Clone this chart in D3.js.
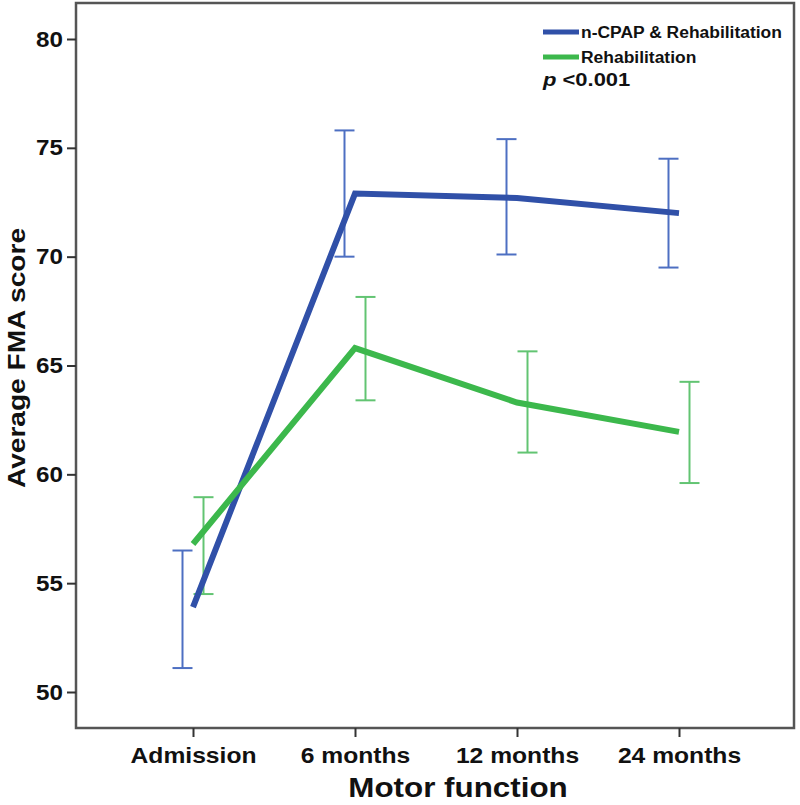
<!DOCTYPE html>
<html>
<head>
<meta charset="utf-8">
<script src="https://cdn.jsdelivr.net/npm/d3@7"></script>
<style>
  body { margin: 0; background: #fff; }
  svg { display: block; font-family: "Liberation Sans", Arial, sans-serif; }
</style>
</head>
<body>
<svg id="chart" width="800" height="805"></svg>
<script>
const categories = ["Admission", "6 months", "12 months", "24 months"];
const yTicks = [50, 55, 60, 65, 70, 75, 80];

const cpapMean  = [53.9, 72.9, 72.7, 72.0];
const cpapLow   = [51.1, 70.0, 70.1, 69.5];
const cpapHigh  = [56.5, 75.8, 75.4, 74.5];

const rehabMean = [56.8, 65.8, 63.3, 61.95];
const rehabLow  = [54.5, 63.4, 61.0, 59.6];
const rehabHigh = [58.95, 68.15, 65.65, 64.25];

const seriesNames = ["n-CPAP & Rehabilitation", "Rehabilitation"];

const svg = d3.select("#chart");
const frame = { left: 76, right: 794, top: 3, bottom: 728 };

const x = d3.scalePoint().domain(categories).range([193, 679]);
const y = d3.scaleLinear().domain([50, 80]).range([692, 39]);

const series = [
  { name: seriesNames[0], mean: cpapMean, low: cpapLow, high: cpapHigh,
    line: "#3050a8", err: "#4d6fc2", off: -10.5 },
  { name: seriesNames[1], mean: rehabMean, low: rehabLow, high: rehabHigh,
    line: "#3cb84c", err: "#62c472", off: 10.5 }
];

// horizontally widen text (reference glyphs are wider than Liberation Sans)
function widen(sel, k) {
  sel.each(function () {
    const w = this.getComputedTextLength();
    d3.select(this).attr("textLength", w * k).attr("lengthAdjust", "spacingAndGlyphs");
  });
}

// frame
svg.append("rect")
  .attr("x", frame.left).attr("y", frame.top)
  .attr("width", frame.right - frame.left).attr("height", frame.bottom - frame.top)
  .attr("fill", "none").attr("stroke", "#555").attr("stroke-width", 2.5);

// y axis
const yAxis = svg.append("g")
  .attr("transform", `translate(${frame.left},0)`)
  .call(d3.axisLeft(y).tickValues(yTicks).tickSize(9).tickPadding(4));
yAxis.select(".domain").remove();
yAxis.selectAll(".tick line").attr("stroke", "#333").attr("stroke-width", 2);
yAxis.selectAll(".tick text")
  .attr("font-size", 22).attr("font-weight", "bold").attr("fill", "#111")
  .attr("font-family", "Liberation Sans, Arial, sans-serif")
  .call(widen, 1.1);

// x axis
const xAxis = svg.append("g")
  .attr("transform", `translate(0,${frame.bottom})`)
  .call(d3.axisBottom(x).tickSize(9).tickPadding(10));
xAxis.select(".domain").remove();
xAxis.selectAll(".tick line").attr("stroke", "#333").attr("stroke-width", 2);
xAxis.selectAll(".tick text")
  .attr("font-size", 22).attr("font-weight", "bold").attr("fill", "#111")
  .attr("font-family", "Liberation Sans, Arial, sans-serif")
  .call(widen, 1.12);

// axis titles
svg.append("text")
  .attr("x", 458).attr("y", 797)
  .attr("text-anchor", "middle")
  .attr("font-size", 28).attr("font-weight", "bold").attr("fill", "#111")
  .text("Motor function")
  .call(widen, 1.12);

svg.append("text")
  .attr("transform", "translate(25,358) rotate(-90)")
  .attr("text-anchor", "middle")
  .attr("font-size", 24).attr("font-weight", "bold").attr("fill", "#111")
  .text("Average FMA score")
  .call(widen, 1.17);

// error bars
series.forEach(s => {
  const g = svg.append("g");
  categories.forEach((c, i) => {
    const cx = x(c) + s.off;
    g.append("line")
      .attr("x1", cx).attr("x2", cx)
      .attr("y1", y(s.low[i])).attr("y2", y(s.high[i]))
      .attr("stroke", s.err).attr("stroke-width", 2);
    [s.low[i], s.high[i]].forEach(v => {
      g.append("line")
        .attr("x1", cx - 10).attr("x2", cx + 10)
        .attr("y1", y(v)).attr("y2", y(v))
        .attr("stroke", s.err).attr("stroke-width", 2);
    });
  });
});

// lines
const lineGen = d3.line().x(d => x(d.c)).y(d => y(d.v));
series.forEach(s => {
  svg.append("path")
    .datum(categories.map((c, i) => ({ c, v: s.mean[i] })))
    .attr("d", lineGen)
    .attr("fill", "none")
    .attr("stroke", s.line)
    .attr("stroke-width", 6)
    .attr("stroke-linejoin", "miter");
});

// legend
const legend = svg.append("g");
series.forEach((s, i) => {
  const ly = 32 + i * 25;
  legend.append("line")
    .attr("x1", 543).attr("x2", 579)
    .attr("y1", ly).attr("y2", ly)
    .attr("stroke", s.line).attr("stroke-width", 5);
  legend.append("text")
    .attr("x", 581).attr("y", ly + 6)
    .attr("font-size", 16).attr("font-weight", "bold").attr("fill", "#111")
    .text(s.name)
    .call(widen, 1.09);
});
const pt = legend.append("text")
  .attr("x", 543).attr("y", 86)
  .attr("font-size", 18).attr("font-weight", "bold").attr("fill", "#111");
pt.append("tspan").attr("font-style", "italic").text("p");
pt.append("tspan").text(" <0.001");
pt.call(widen, 1.22);
</script>
</body>
</html>
